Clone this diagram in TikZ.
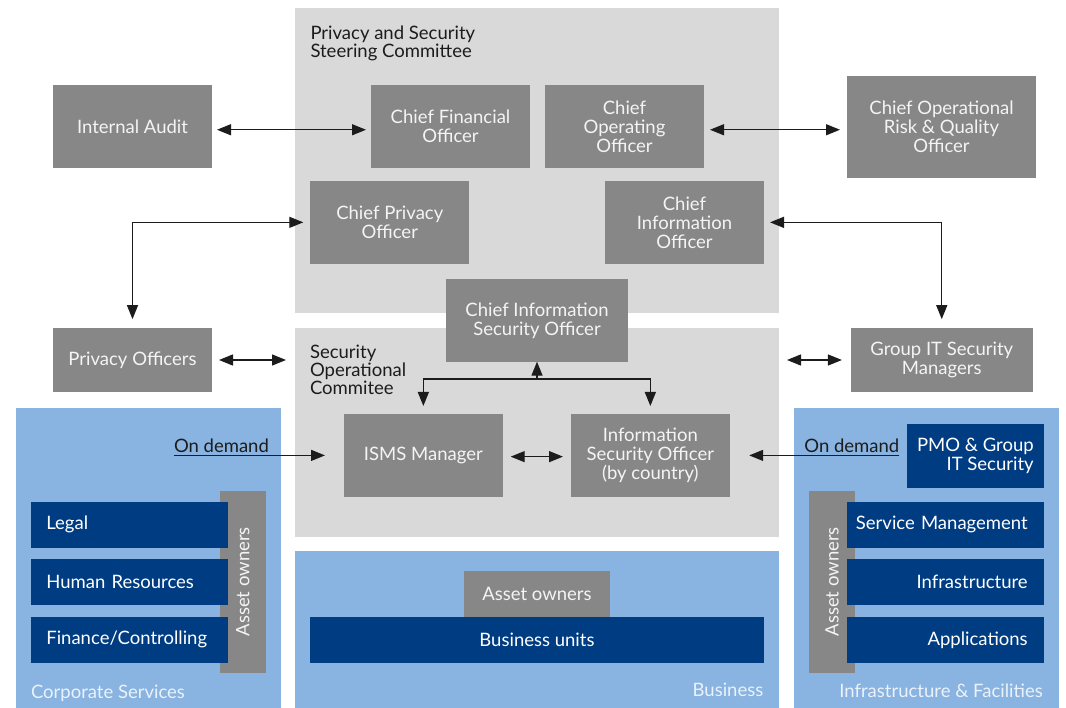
\documentclass[tikz,border=0pt]{standalone}
\usepackage{fontspec}
\setmainfont{Lato}
\usetikzlibrary{arrows.meta}
\definecolor{boxgray}{HTML}{878787}
\definecolor{bggray}{HTML}{D9D9D9}
\definecolor{lblue}{HTML}{89B3E0}
\definecolor{dblue}{HTML}{003C82}
\definecolor{ink}{HTML}{1C1C1C}
\definecolor{paletext}{HTML}{F4F4F4}
\definecolor{bluetext}{HTML}{EAF2FB}
\begin{document}
\begin{tikzpicture}[x=1pt,y=-1pt,
  every node/.style={inner sep=0pt, outer sep=0pt},
  sz/.style 2 args={minimum width=#1pt, minimum height=#2pt},
  txt/.style={font=\fontsize{18.5}{19}\selectfont},
  gbox/.style={txt, fill=boxgray, text=paletext, align=center},
  dbox/.style={txt, fill=dblue, text=white},
  lbox/.style={dbox, text width=166pt, inner xsep=15.3pt, minimum height=45.7pt, align=left},
  rbox/.style={dbox, text width=196.7pt, inner xsep=0pt, minimum height=45.7pt, align=right,
    execute at end node={\hspace*{16pt}}},
  bgpanel/.style={fill=bggray},
  bluepanel/.style={fill=lblue},
  arr/.style={draw=ink, line width=1.3pt, {Triangle[length=14pt,width=11pt]}-{Triangle[length=14pt,width=11pt]}},
  arrone/.style={draw=ink, line width=1.3pt, -{Triangle[length=14pt,width=11pt]}},
  title/.style={font=\fontsize{18.5}{18}\selectfont, text=ink, align=left},
  plabel/.style={txt, text=bluetext},
]
\useasboundingbox (0,0) rectangle (1066,708);

% panels
\node[bgpanel, sz={484}{304.7}] (steer) at (537,160.35) {};
\node[bgpanel, sz={484}{209}] (secop) at (537,432.2) {};
\node[bluepanel, sz={264.7}{300}] (corp) at (148.35,558) {};
\node[bluepanel, sz={484}{157}] (bus) at (537,629.5) {};
\node[bluepanel, sz={265}{300}] (infra) at (926.5,558) {};

% titles
\node[title, anchor=north west] (steert) at (310.5,25.5) {Privacy and Security\\Steering Committee};
\node[title, anchor=north west] (secopt) at (310,345.5) {Security\\Operational\\Commitee};

% steering committee boxes
\node[gbox, sz={159}{82.7}] (ia) at (132.5,126.35) {Internal Audit};
\node[gbox, sz={159}{82.7}] (cfo) at (450.5,126.35) {Chief Financial\\Officer};
\node[gbox, sz={159}{82.7}] (coo) at (624.5,126.35) {Chief\\Operating\\Officer};
\node[gbox, sz={189}{101.7}] (corq) at (941.5,126.85) {Chief Operational\\Risk \& Quality\\Officer};
\node[gbox, sz={159}{82.7}] (cpo) at (389.8,222.35) {Chief Privacy\\Officer};
\node[gbox, sz={159}{82.7}] (cio) at (684.5,222.35) {Chief\\Information\\Officer};
\node[gbox, sz={182}{82.7}] (ciso) at (537,320.35) {Chief Information\\Security Officer};

% operational
\node[gbox, sz={159}{63.7}] (po) at (132.5,360) {Privacy Officers};
\node[gbox, sz={181.7}{63.7}] (gits) at (941.75,360) {Group IT Security\\Managers};
\node[gbox, sz={158.7}{82.7}] (isms) at (423.35,455.35) {ISMS Manager};
\node[gbox, sz={158.7}{82.7}] (iso) at (650.35,455.35) {Information\\Security Officer\\(by country)};
\node[dbox, sz={136.7}{63.7}, align=right] (pmo) at (975.35,455.85) {PMO \& Group\\IT Security};

% corporate services
\node[gbox, rotate=90, sz={181.7}{45.7}] (aol) at (242.85,581.85) {Asset owners};
\node[lbox] (legal) at (129.35,524.85) {Legal};
\node[lbox] (hr) at (129.35,581.85) {Human Resources};
\node[lbox] (fin) at (129.35,639.85) {Finance/Controlling};
\node[plabel, anchor=base west] (corpl) at (31,698.3) {Corporate Services};

% infrastructure
\node[gbox, rotate=90, sz={181.7}{46}] (aor) at (832,581.85) {Asset owners};
\node[rbox] (svc) at (945.35,524.85) {Service Management};
\node[rbox] (infr) at (945.35,581.85) {Infrastructure};
\node[rbox] (apps) at (945.35,639.85) {Applications};
\node[plabel, anchor=base east] (infl) at (1042.7,697) {Infrastructure \& Facilities};

% business
\node[gbox, sz={146}{46}] (aob) at (537,594) {Asset owners};
\node[dbox, sz={454}{45.7}] (bu) at (537,639.85) {Business units};
\node[plabel, anchor=base east] (busl) at (763.3,696.7) {Business};

% connectors
\draw[arr] ([xshift=5pt,yshift=-3.4pt]ia.east) -- ([xshift=-5pt,yshift=-3.4pt]cfo.west);
\draw[arr] ([xshift=6pt,yshift=-3.4pt]coo.east) -- ([xshift=-7pt,yshift=-3.4pt]coo.east -| corq.west);
\draw[arr] ([yshift=9pt]po.north) |- ([xshift=-7pt]cpo.west);
\draw[arr] ([xshift=6pt]cio.east) -| ([yshift=9pt]gits.north);
\draw[arr] ([xshift=7pt]po.east) -- ([xshift=-9pt]po.east -| secop.west);
\draw[arr] ([xshift=8pt]gits.west -| secop.east) -- ([xshift=-9pt]gits.west);
\coordinate (jn) at ([yshift=-17.3pt]ciso.south);
\draw[arr] ([yshift=8pt]isms.north) |- (jn) -| ([yshift=8pt]iso.north);
\draw[arrone] (jn) -- (ciso.south);
\draw[arr] ([xshift=8pt,yshift=-1.3pt]isms.east) -- ([xshift=-8pt,yshift=-1.3pt]iso.west);

\node[txt, text=ink, anchor=base west] (odl) at (174,452.7) {On demand};
\coordinate (odls) at (174,455.4);
\draw[arrone] (odls) -- ([xshift=-19pt]odls -| isms.west);
\node[txt, text=ink, anchor=base east] (odr) at (899.3,452.7) {On demand};
\coordinate (odrs) at (899.3,455.4);
\draw[arrone] (odrs) -- ([xshift=19.5pt]odrs -| iso.east);
\end{tikzpicture}
\end{document}
